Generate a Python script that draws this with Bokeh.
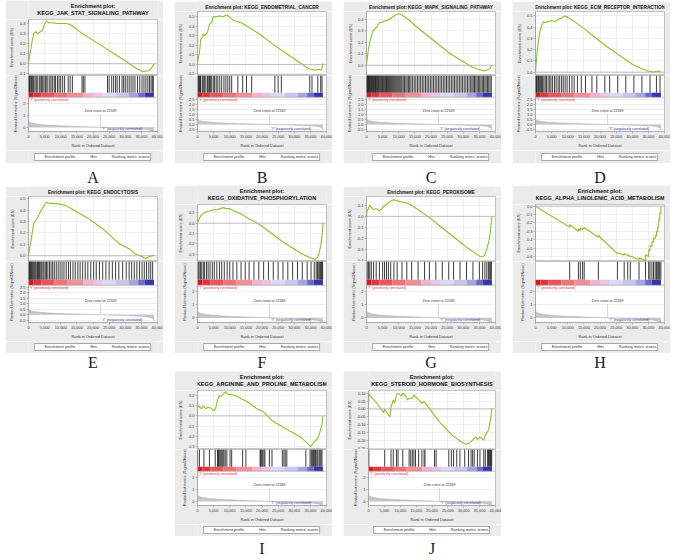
import numpy as np
from bokeh.plotting import figure
from bokeh.layouts import row, column, Spacer
from bokeh.models import (Range1d, Span, Label, Legend, LegendItem, FixedTicker,
                          SingleIntervalTicker, NumeralTickFormatter)
from bokeh.embed import file_html
from bokeh.resources import INLINE

# ------------------------------------------------------------------ data
RANK_MAX = 40000
ZERO_CROSS = 22349
ZERO_CROSS_TEXT = "Zero cross at 22349"
POS_TEXT = "'Y' (positively correlated)"
NEG_TEXT = "'Y' (negatively correlated)"

letters = ["A", "B", "C", "D", "E", "F", "G", "H", "I", "J"]
titles = [
    "Enrichment plot:\nKEGG_JAK_STAT_SIGNALING_PATHWAY",
    "Enrichment plot: KEGG_ENDOMETRIAL_CANCER",
    "Enrichment plot: KEGG_MAPK_SIGNALING_PATHWAY",
    "Enrichment plot: KEGG_ECM_RECEPTOR_INTERACTION",
    "Enrichment plot: KEGG_ENDOCYTOSIS",
    "Enrichment plot:\nKEGG_OXIDATIVE_PHOSPHORYLATION",
    "Enrichment plot: KEGG_PEROXISOME",
    "Enrichment plot:\nKEGG_ALPHA_LINOLENIC_ACID_METABOLISM",
    "Enrichment plot:\nKEGG_ARGININE_AND_PROLINE_METABOLISM",
    "Enrichment plot:\nKEGG_STEROID_HORMONE_BIOSYNTHESIS",
]

# ranked list metric (shared by all panels), rank in thousands
metric_rank = [0, 0.1, 0.4, 1.0, 2.0, 4.0, 7.0, 10.0, 14.0, 18.0, 22.35, 26.0, 30.0,
               33.0, 35.5, 37.0, 38.0, 38.5, 38.8, 38.9]
metric_val = [0.62, 0.5, 0.42, 0.35, 0.29, 0.22, 0.16, 0.12, 0.08, 0.04, 0.0, -0.03,
              -0.07, -0.1, -0.14, -0.19, -0.26, -0.33, -0.45, -0.55]

# colour bar of the ranked list (edges in thousands)
cbar_edges = [0, 1.5, 4, 8, 12, 17, 20, 23, 27, 31, 34, 36, 38.9]
cbar_colors = ["#d7191c", "#e3343a", "#ec5257", "#f07176", "#f39096", "#f2b3d3",
               "#e9c4e6", "#dcdaf2", "#c7c7ee", "#a4a4e0", "#6a6acb", "#3535ad"]

# running enrichment scores (rank in thousands)
es_rank_A = [0, 0.4, 1.0, 1.6, 2.3, 2.8, 3.8, 4.3, 4.8, 5.6, 6.3, 7.8, 8.8, 11.7, 12.7,
             13.7, 16.7, 21.6, 26.6, 30.6, 33.6, 35.5, 37.0, 38.0, 38.6, 38.9]
es_A = [0.0, 0.083, 0.2, 0.3, 0.32, 0.3, 0.32, 0.33, 0.38, 0.427, 0.407, 0.407, 0.40,
        0.40, 0.393, 0.373, 0.30, 0.20, 0.10, 0.017, -0.05, -0.077, -0.073, -0.05,
        -0.02, 0.0]
es_rank_B = [0, 0.3, 0.6, 1.0, 1.6, 1.8, 2.3, 3.1, 3.6, 3.9, 4.4, 4.9, 5.9, 6.9, 8.0,
             8.8, 9.5, 11.0, 12.5, 14.0, 19.2, 24.3, 29.4, 34.5, 36.5, 37.5, 38.4,
             38.6, 38.9]
es_B = [0, 0.08, 0.12, 0.265, 0.285, 0.32, 0.30, 0.34, 0.41, 0.43, 0.44, 0.50, 0.50,
        0.51, 0.50, 0.52, 0.51, 0.465, 0.45, 0.43, 0.32, 0.19, 0.073, -0.045, -0.06,
        -0.05, -0.06, -0.03, 0.01]
es_rank_C = [0, 0.5, 1.0, 2.0, 3.0, 4.0, 5.0, 6.0, 7.0, 8.0, 9.0, 10.0, 11.0, 13.0,
             15.0, 18.0, 22.0, 26.0, 30.0, 33.0, 35.0, 36.5, 37.5, 38.3, 38.9]
es_C = [0, 0.12, 0.2, 0.3, 0.33, 0.37, 0.38, 0.39, 0.40, 0.42, 0.44, 0.45, 0.44, 0.40,
        0.35, 0.28, 0.19, 0.10, 0.03, -0.02, -0.04, -0.05, -0.04, -0.03, 0.0]
es_rank_D = [0, 0.5, 1.0, 1.5, 2.0, 2.5, 3.0, 4.0, 5.0, 6.0, 7.0, 8.0, 9.0, 10.0,
             11.0, 13.0, 15.0, 18.0, 22.0, 26.0, 30.0, 33.0, 35.0, 36.5, 38.0, 38.9]
es_D = [0, 0.18, 0.3, 0.38, 0.42, 0.45, 0.44, 0.45, 0.46, 0.45, 0.47, 0.48, 0.50,
        0.49, 0.47, 0.43, 0.39, 0.32, 0.23, 0.15, 0.07, 0.03, 0.01, 0.0, 0.01, 0.0]
es_rank_E = [0, 0.7, 1.2, 1.7, 2.6, 3.6, 4.6, 5.6, 6.6, 7.5, 9.5, 11.6, 13.5, 18.4,
             23.3, 28.2, 31.3, 33.2, 35.2, 36.2, 37.6, 38.9]
es_E = [0, 0.12, 0.21, 0.29, 0.325, 0.38, 0.43, 0.47, 0.46, 0.46, 0.455, 0.44, 0.41,
        0.33, 0.23, 0.105, 0.06, 0.015, -0.006, -0.024, -0.006, 0.006]
es_rank_F = [0, 0.5, 1.0, 2.0, 3.0, 4.0, 5.0, 6.0, 7.0, 8.0, 9.0, 10.0, 12.0, 14.0,
             16.0, 18.0, 20.0, 23.0, 26.0, 29.0, 32.0, 34.0, 35.5, 36.5, 37.2, 37.8,
             38.3, 38.7, 38.9]
es_F = [0, 0.04, 0.07, 0.10, 0.11, 0.12, 0.13, 0.13, 0.14, 0.15, 0.14, 0.14, 0.11,
        0.08, 0.04, 0.01, -0.03, -0.1, -0.17, -0.23, -0.29, -0.32, -0.34, -0.35,
        -0.33, -0.28, -0.2, -0.1, 0.0]
es_rank_G = [0, 0.2, 0.6, 1.0, 1.5, 2.2, 3.0, 4.0, 5.0, 6.2, 7.5, 8.5, 9.5, 11.0,
             12.5, 14.0, 16.0, 19.0, 22.0, 25.0, 28.0, 31.0, 33.5, 35.5, 36.5, 37.3,
             38.0, 38.5, 38.9]
es_G = [0, 0.05, 0.07, 0.1, 0.08, 0.06, 0.07, 0.05, 0.08, 0.11, 0.14, 0.15, 0.14,
        0.13, 0.12, 0.1, 0.06, 0.0, -0.07, -0.14, -0.21, -0.28, -0.33, -0.37, -0.36,
        -0.3, -0.22, -0.12, 0.0]
es_rank_H = [0, 10.6, 10.62, 13.3, 13.32, 13.9, 13.92, 14.6, 14.62, 15.1, 15.12, 19.5,
             19.52, 25.4, 25.42, 27.5, 27.52, 28.6, 28.62, 29.4, 29.42, 32.1, 32.12,
             34.1, 34.12, 35.1, 35.12, 35.5, 35.52, 36.1, 36.12, 36.6, 36.62, 37.1,
             37.12, 37.5, 37.52, 37.9, 37.92, 38.2, 38.22, 38.5, 38.52, 38.88, 38.9]
es_H = [0, -0.25, -0.22, -0.30, -0.27, -0.29, -0.26, -0.28, -0.26, -0.27, -0.255,
        -0.37, -0.35, -0.565, -0.555, -0.585, -0.565, -0.59, -0.58, -0.605, -0.595,
        -0.635, -0.62, -0.645, -0.58, -0.60, -0.52, -0.53, -0.47, -0.48, -0.42,
        -0.43, -0.38, -0.39, -0.35, -0.36, -0.30, -0.31, -0.24, -0.25, -0.16, -0.17,
        -0.08, -0.09, 0.0]
es_rank_I = [0, 0.05, 1.3, 1.8, 2.7, 3.2, 4.2, 5.2, 5.7, 6.2, 6.7, 7.2, 8.1, 8.6, 9.6,
             10.6, 12.1, 13.5, 15.5, 18.4, 20.5, 23.3, 28.2, 32.1, 35.1, 36.1, 37.5,
             38.0, 38.7, 38.85]
es_I = [0, 0.1, 0.07, 0.10, 0.07, 0.086, 0.075, 0.05, 0.086, 0.15, 0.2, 0.19, 0.22,
        0.235, 0.21, 0.21, 0.195, 0.17, 0.14, 0.07, 0.04, -0.05, -0.14, -0.21, -0.30,
        -0.26, -0.21, -0.155, -0.07, 0.0]
es_rank_J = [0, 0.1, 2.2, 4.8, 5.1, 6.3, 6.8, 7.1, 7.5, 7.8, 8.3, 8.8, 9.3, 10.3, 10.8,
             11.8, 12.3, 12.8, 13.8, 14.3, 15.3, 16.3, 16.8, 17.5, 18.1, 22.3, 26.3,
             29.3, 30.8, 31.8, 32.8, 33.8, 34.3, 35.1, 36.3, 36.8, 37.8, 38.3, 38.6,
             38.8]
es_J = [0, 0.095, 0.047, -0.023, -0.002, -0.038, -0.05, 0.015, 0.036, 0.057, 0.04,
        0.089, 0.1, 0.083, 0.1, 0.079, 0.057, 0.068, 0.068, 0.089, 0.068, 0.047,
        0.036, 0.047, 0.032, -0.08, -0.166, -0.209, -0.223, -0.215, -0.198, -0.177,
        -0.194, -0.177, -0.198, -0.166, -0.134, -0.08, -0.049, 0.004]

# gene-set hit positions (rank in thousands)
hits_A = [0.1, 0.3, 0.5, 0.8, 1.0, 1.3, 1.6, 2.0, 2.4, 2.7, 3.3, 3.6, 4.0, 4.4, 4.8,
          5.2, 5.5, 6.0, 6.6, 7.0, 7.5, 8.0, 8.4, 9.0, 9.5, 10.0, 10.6, 11.2, 12.3,
          12.9, 13.6, 16.6, 17.0, 17.5, 24.5, 25.0, 25.8, 26.4, 27.0, 27.5, 28.2, 29.0,
          29.5, 30.0, 30.6, 31.2, 31.8, 32.4, 33.0, 33.8, 34.5, 35.2, 35.8, 36.4, 37.0,
          37.5, 38.0, 38.4, 38.7]
hits_B = [0.2, 0.4, 0.6, 0.9, 1.0, 1.5, 1.8, 2.2, 2.6, 3.1, 3.5, 3.7, 4.0, 4.4, 4.9,
          5.3, 5.8, 6.3, 6.9, 7.5, 8.2, 8.8, 9.4, 10.0, 10.6, 12.5, 14.0, 15.2, 16.8,
          24.0, 25.0, 26.0, 34.8, 35.5, 37.3, 38.2, 38.6]
hits_C = [0.1, 0.25, 0.4, 0.55, 0.7, 0.85, 1.0, 1.2, 1.4, 1.6, 1.8, 2.0, 2.2, 2.4, 2.6,
          2.8, 3.0, 3.2, 3.45, 3.7, 3.95, 4.2, 4.45, 4.7, 4.95, 5.2, 5.45, 5.7, 5.95,
          6.2, 6.5, 6.8, 7.1, 7.4, 7.7, 8.0, 8.3, 8.6, 8.9, 9.2, 9.5, 9.8, 10.1, 10.4,
          10.7, 11.0, 11.4, 11.8, 12.2, 12.6, 13.0, 13.4, 13.8, 14.3, 14.8, 15.3, 15.8,
          16.3, 16.8, 17.3, 17.8, 18.3, 18.8, 19.3, 19.8, 20.3, 20.8, 21.3, 21.8, 22.3,
          22.8, 23.3, 23.8, 24.3, 24.8, 25.3, 25.8, 26.3, 26.8, 27.3, 27.8, 28.3, 28.8,
          29.3, 29.8, 30.3, 30.8, 31.3, 31.8, 32.3, 32.7, 33.1, 33.5, 33.9, 34.3, 34.7,
          35.1, 35.5, 35.9, 36.3, 36.7, 37.1, 37.5, 37.9, 38.3, 38.7]
hits_D = [0.1, 0.3, 0.5, 0.8, 1.0, 1.3, 1.6, 1.9, 2.2, 2.6, 3.0, 3.4, 3.9, 4.4, 4.8,
          5.3, 5.9, 6.4, 7.0, 7.5, 8.1, 8.6, 9.2, 9.8, 10.5, 11.3, 12.0, 13.0, 14.2,
          15.5, 17.5, 19.0, 21.5, 23.0, 25.5, 28.0, 30.5, 33.0, 35.5, 37.5, 38.6]
hits_E = [0.1, 0.3, 0.5, 0.7, 0.9, 1.2, 1.5, 1.8, 2.1, 2.4, 2.8, 3.1, 3.4, 3.8, 4.1,
          4.5, 4.8, 5.2, 5.6, 6.0, 6.5, 7.0, 7.5, 8.0, 8.6, 9.2, 9.8, 10.4, 11.0, 11.7,
          12.4, 13.0, 13.8, 14.5, 15.3, 16.0, 16.8, 17.6, 18.4, 19.3, 20.2, 21.0, 22.0,
          23.0, 24.0, 25.0, 26.0, 27.0, 28.0, 29.2, 30.3, 31.2, 32.0, 32.8, 33.6, 34.4,
          35.2, 35.9, 36.6, 37.3, 37.9, 38.5]
hits_F = [0.2, 0.5, 0.9, 1.3, 1.8, 2.2, 2.8, 3.3, 3.9, 4.6, 5.2, 6.0, 6.8, 7.5, 8.3,
          9.2, 10.0, 11.0, 12.2, 13.5, 14.8, 16.0, 17.5, 19.0, 20.5, 22.0, 23.5, 25.0,
          26.5, 28.0, 29.5, 31.0, 32.5, 34.0, 35.2, 36.2, 36.8, 37.2, 37.6, 37.9, 38.2,
          38.4, 38.6, 38.8]
hits_G = [0.2, 0.6, 1.0, 1.5, 2.2, 3.0, 4.0, 5.0, 5.6, 6.2, 6.8, 7.5, 8.5, 9.5, 11.0,
          12.5, 14.0, 16.0, 18.0, 19.5, 21.5, 23.5, 25.5, 27.0, 29.0, 31.0, 33.0, 35.0,
          36.0, 36.7, 37.3, 37.8, 38.2, 38.5, 38.7]
hits_H = [10.6, 13.3, 13.9, 14.6, 15.1, 19.5, 25.4, 27.5, 28.6, 29.4, 32.1, 34.1, 35.1,
          35.5, 36.1, 36.6, 37.1, 37.5, 37.9, 38.2, 38.5, 38.88]
hits_I = [0.05, 0.6, 2.0, 3.7, 5.5, 6.2, 6.5, 6.7, 7.0, 7.3, 7.6, 7.9, 8.2, 8.6, 9.1,
          10.1, 10.6, 14.0, 15.0, 19.4, 19.6, 19.9, 20.2, 20.6, 20.9, 22.3, 23.1, 26.3,
          26.8, 27.2, 27.7, 33.6, 34.9, 35.3, 35.6, 35.9, 36.1, 36.4, 36.6, 37.0, 37.3,
          37.7, 38.0, 38.3, 38.6]
hits_J = [0.1, 5.1, 7.1, 7.8, 8.8, 9.3, 10.8, 12.8, 13.3, 13.8, 14.3, 14.8, 15.8, 16.8,
          17.5, 17.8, 20.8, 21.3, 25.3, 26.1, 26.8, 27.8, 28.8, 30.3, 31.5, 32.3, 32.8,
          33.3, 34.3, 35.1, 36.3, 36.8, 37.5, 37.8, 38.1, 38.4, 38.6, 38.8]

# axis settings: (low, high, tick step, format)
es_axis = {
    "A": (-0.117, 0.44, 0.1, "0.0"), "B": (-0.116, 0.556, 0.1, "0.0"),
    "C": (-0.09, 0.47, 0.1, "0.0"), "D": (-0.03, 0.54, 0.1, "0.0"),
    "E": (-0.05, 0.52, 0.1, "0.0"), "F": (-0.37, 0.18, 0.1, "0.0"),
    "G": (-0.41, 0.18, 0.1, "0.0"), "H": (-0.66, 0.02, 0.1, "0.0"),
    "I": (-0.33, 0.25, 0.1, "0.0"), "J": (-0.257, 0.117, 0.05, "0.00"),
}
met_ticks_int = [0, 1, 2]
met_ticks_half = [-0.5, 0, 0.5, 1, 1.5, 2, 2.5]
met_axis = {
    "A": (-0.35, 2.5, met_ticks_int, "0"), "B": (-0.7, 2.7, met_ticks_half, "0.0"),
    "C": (-0.7, 2.7, met_ticks_half, "0.0"), "D": (-0.7, 2.7, met_ticks_half, "0.0"),
    "E": (-0.7, 2.7, met_ticks_half, "0.0"), "F": (-0.35, 2.5, met_ticks_int, "0"),
    "G": (-0.35, 2.5, met_ticks_int, "0"), "H": (-0.35, 2.5, met_ticks_int, "0"),
    "I": (-0.35, 2.5, met_ticks_int, "0"), "J": (-0.35, 2.5, met_ticks_int, "0"),
}

es_ranks = [es_rank_A, es_rank_B, es_rank_C, es_rank_D, es_rank_E,
            es_rank_F, es_rank_G, es_rank_H, es_rank_I, es_rank_J]
es_vals = [es_A, es_B, es_C, es_D, es_E, es_F, es_G, es_H, es_I, es_J]
hits_all = [hits_A, hits_B, hits_C, hits_D, hits_E, hits_F, hits_G, hits_H, hits_I, hits_J]

# ------------------------------------------------------------------ style
GRAY = "#ebebeb"
GREEN = "#86c521"
OUTLINE = "#9a9a9a"
GRID = "#e2e2e2"
FONT = "Liberation Sans"
PW = 158            # panel width
BL, BR = 19, 6      # left / right borders
TXT = "3.9px"
AXIS_PX = 13        # room taken by the x axis below the lower frame
K = 1000.0


def style_axis(ax):
    ax.major_label_text_font_size = TXT
    ax.major_label_text_font = FONT
    ax.major_label_text_color = "#333333"
    ax.axis_label_text_font_size = TXT
    ax.axis_label_text_font = FONT
    ax.axis_label_text_font_style = "normal"
    ax.axis_label_text_color = "#333333"
    ax.major_label_standoff = 1
    ax.axis_label_standoff = 2
    ax.major_tick_out = 2
    ax.major_tick_in = 0
    ax.minor_tick_out = 0
    ax.minor_tick_in = 0
    ax.axis_line_color = OUTLINE
    ax.axis_line_width = 0.6
    ax.major_tick_line_color = OUTLINE
    ax.major_tick_line_width = 0.6


def bare_fig(h, fill):
    p = figure(width=PW, height=h, x_range=Range1d(0, 1), y_range=Range1d(0, h),
               x_axis_location=None, y_axis_location=None, output_backend="svg",
               toolbar_location=None, min_border=0, outline_line_color=None,
               border_fill_color=fill, background_fill_color=fill)
    p.grid.visible = False
    return p


def make_title(i):
    lines = titles[i].split("\n")
    two = len(lines) == 2
    h = 19 if two else 11
    size = "5.6px" if two else "4.75px"
    p = bare_fig(h, GRAY)
    for k, line in enumerate(lines):
        p.add_layout(Label(x=0.5, y=h - 5.5 - 7.2 * k, text=line, text_align="center",
                           text_baseline="middle", text_font=FONT,
                           text_font_size=size, text_font_style="bold",
                           text_color="#111111"))
    return p, h


def make_es(i, h):
    lo, hi, step, fmt = es_axis[letters[i]]
    p = figure(width=PW, height=h, title=None,
               x_range=Range1d(0, RANK_MAX), y_range=Range1d(lo, hi),
               x_axis_location=None, output_backend="svg", toolbar_location=None,
               min_border_left=BL, min_border_right=BR, min_border_top=0,
               min_border_bottom=0, border_fill_color=GRAY,
               background_fill_color="white", outline_line_color=OUTLINE,
               outline_line_width=0.6)
    ax = p.yaxis[0]
    style_axis(ax)
    ax.axis_label = "Enrichment score (ES)"
    ax.ticker = SingleIntervalTicker(interval=step)
    ax.formatter = NumeralTickFormatter(format=fmt)
    p.xgrid.ticker = SingleIntervalTicker(interval=5000)
    p.grid.grid_line_color = GRID
    p.grid.grid_line_width = 0.6
    p.add_layout(Span(location=0, dimension="width", line_color="#a8a8a8",
                      line_width=0.7))
    p.line([r * K for r in es_ranks[i]], es_vals[i], line_color=GREEN, line_width=1.1)
    return p


def make_lower(i, hits_px, cbar_px, met_px):
    m_lo, m_hi, m_ticks, fmt = met_axis[letters[i]]
    top_px = hits_px + cbar_px
    frac = met_px / (met_px + top_px)
    y_end = m_lo + (m_hi - m_lo) / frac
    p = figure(width=PW, height=met_px + top_px + AXIS_PX,
               x_range=Range1d(0, RANK_MAX), y_range=Range1d(m_lo, y_end),
               output_backend="svg", toolbar_location=None,
               min_border_left=BL, min_border_right=BR, min_border_top=0,
               min_border_bottom=0, border_fill_color=GRAY,
               background_fill_color="white", outline_line_color=OUTLINE,
               outline_line_width=0.6)
    p.extra_y_ranges = {"hb": Range1d(-met_px / top_px, 1)}
    cb_top = cbar_px / top_px

    # ranked list metric
    xs = [r * K for r in metric_rank]
    p.varea(x=xs, y1=[0] * len(xs), y2=metric_val, fill_color="#c6c6c6")
    p.line(xs, metric_val, line_color="#aaaaaa", line_width=0.5)
    zc_y = m_lo + 0.5 * (m_hi - m_lo)
    p.segment(x0=[ZERO_CROSS], x1=[ZERO_CROSS], y0=[0], y1=[zc_y],
              line_color="#bbbbbb", line_width=0.6)

    # colour bar + hits
    p.quad(left=[e * K for e in cbar_edges[:-1]], right=[e * K for e in cbar_edges[1:]],
           bottom=0, top=cb_top, fill_color=cbar_colors, line_color=None,
           y_range_name="hb")
    hx = [v * K for v in hits_all[i]]
    p.segment(x0=hx, x1=hx, y0=cb_top, y1=1, line_color="#1a1a1a", line_width=0.85,
              y_range_name="hb")
    p.add_layout(Span(location=m_hi, dimension="width", line_color=OUTLINE,
                      line_width=0.6))

    # texts
    p.add_layout(Label(x=0, y=m_hi, text=POS_TEXT, text_color="#d03a3a",
                       text_font=FONT, text_font_size="3.6px", text_baseline="top",
                       x_offset=1, y_offset=-1))
    p.add_layout(Label(x=ZERO_CROSS, y=zc_y, text=ZERO_CROSS_TEXT, text_color="#333333",
                       text_font=FONT, text_font_size="3.6px", text_align="center",
                       text_baseline="bottom", y_offset=1))
    p.add_layout(Label(x=29000, y=m_lo, text=NEG_TEXT, text_color="#3a3aa6",
                       text_font=FONT, text_font_size="3.6px", text_align="center",
                       text_baseline="bottom", y_offset=1))

    # axes
    ay = p.yaxis[0]
    style_axis(ay)
    ay.axis_label = "Ranked list metric (Signal2Noise)"
    ay.ticker = FixedTicker(ticks=m_ticks)
    ay.formatter = NumeralTickFormatter(format=fmt)
    ay.bounds = (m_lo, m_hi)
    ax = p.xaxis[0]
    style_axis(ax)
    ax.axis_label = "Rank in Ordered Dataset"
    ax.ticker = SingleIntervalTicker(interval=5000)
    ax.formatter = NumeralTickFormatter(format="0,0")
    p.xgrid.visible = False
    p.ygrid.grid_line_color = GRID
    p.ygrid.grid_line_width = 0.6
    return p


def make_legend(h):
    p = bare_fig(h, GRAY)
    r1 = p.line([], [], line_color=GREEN, line_width=1.0)
    r2 = p.line([], [], line_color="#222222", line_width=0.8)
    r3 = p.line([], [], line_color="#c8c8c8", line_width=0.8)
    leg = Legend(items=[LegendItem(label="Enrichment profile", renderers=[r1]),
                        LegendItem(label="Hits", renderers=[r2]),
                        LegendItem(label="Ranking metric scores", renderers=[r3])],
                 orientation="horizontal", location="center",
                 label_text_font=FONT, label_text_font_size="3.8px",
                 label_text_color="#333333", glyph_width=7, glyph_height=4,
                 label_height=4, label_width=1, label_standoff=2, spacing=6,
                 padding=1, margin=0, border_line_color="#555555",
                 border_line_width=0.6, background_fill_color="white")
    p.add_layout(leg)
    return p


def make_letter(letter, h, drop):
    p = bare_fig(h, "white")
    p.add_layout(Label(x=0.5, y=h - drop, text=letter, text_align="center",
                       text_baseline="middle", text_font="Liberation Serif",
                       text_font_size="16px", text_color="#1a1a1a"))
    return p


def panel(i, spec):
    es_block, sizes, leg_h, letter_h, drop = spec
    tfig, th = make_title(i)
    return column(tfig, make_es(i, es_block - th), make_lower(i, *sizes),
                  make_legend(leg_h), make_letter(letters[i], letter_h, drop))


ROW1 = (75, (19, 5, 38), 13, 22, 14)
ROW2 = (76, (20, 6, 41), 12, 18, 9)
ROW3 = (78, (19, 5, 38), 12, 24, 12)
GAP = 11
LEFT = 5


def sp(w):
    return Spacer(width=w, height=10)


row1 = row(sp(LEFT), panel(0, ROW1), sp(GAP), panel(1, ROW1), sp(GAP),
           panel(2, ROW1), sp(GAP), panel(3, ROW1))
row2 = row(sp(LEFT), panel(4, ROW2), sp(GAP), panel(5, ROW2), sp(GAP),
           panel(6, ROW2), sp(GAP), panel(7, ROW2))
row3 = row(sp(LEFT + PW + GAP), panel(8, ROW3), sp(GAP), panel(9, ROW3))
layout = column(row1, row2, row3)

open("out.html", "w").write(file_html(layout, INLINE))
